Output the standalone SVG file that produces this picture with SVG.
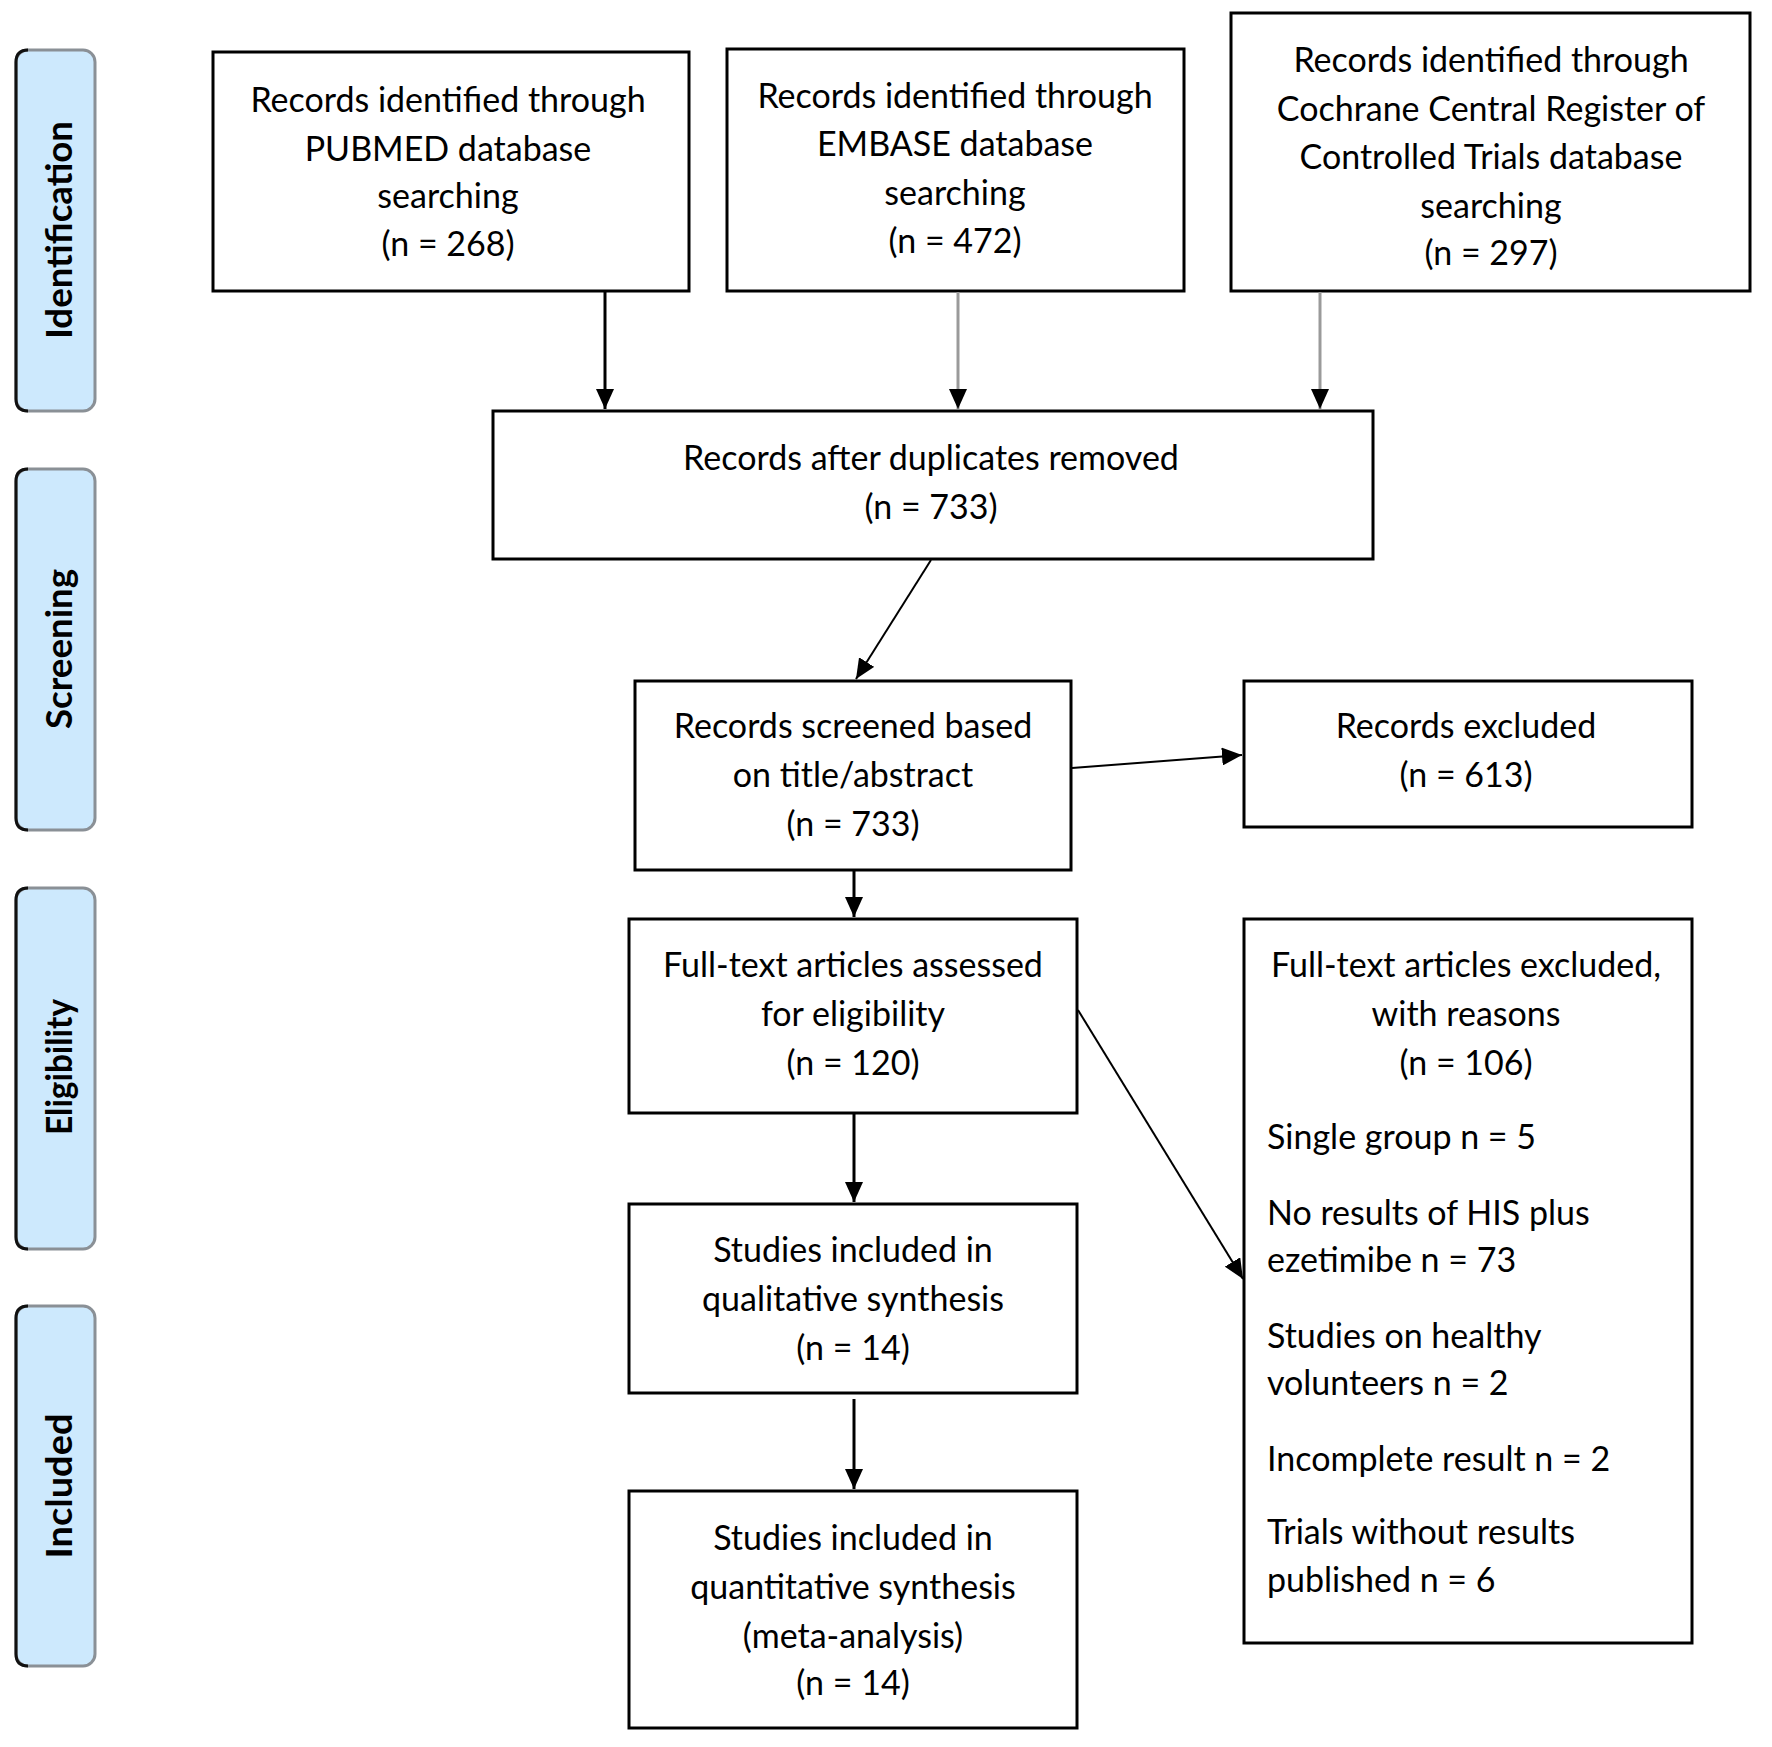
<svg xmlns="http://www.w3.org/2000/svg" width="1772" height="1747" viewBox="0 0 1772 1747">
<style>
.bg{fill:#ffffff}
.box{fill:#ffffff;stroke:#000000;stroke-width:3}
.tab{fill:#cde9fd;stroke:#8a9096;stroke-width:3}
.edge{fill:none;stroke:#111111;stroke-width:3}
.t{font-family:Lato,"Liberation Sans",sans-serif;font-size:34px;fill:#000000;text-anchor:middle}
.l{text-anchor:start}
.tt{font-family:Lato,"Liberation Sans",sans-serif;font-size:36px;font-weight:bold;fill:#000000;text-anchor:middle}
.c{fill:none;stroke:#000000;stroke-width:3}
.g{stroke:#9a9a9a}
.d{stroke-width:2}
</style>
<defs>
<marker id="ah" markerUnits="userSpaceOnUse" markerWidth="20" markerHeight="18" viewBox="0 0 20 18" refX="20" refY="9" orient="auto">
<path d="M0,0 L20,9 L0,18 Z" fill="#000000"/>
</marker>
</defs>
<rect class="bg" x="0" y="0" width="1772" height="1747"/>

<g id="tab-identification">
<rect class="tab" x="16" y="50" width="79" height="361" rx="12"/>
<path class="edge" d="M28,50 Q16,50 16,62 L16,399 Q16,411 28,411"/>
<text class="tt" transform="translate(72,230) rotate(-90)" textLength="218" lengthAdjust="spacingAndGlyphs">Identification</text>
</g>
<g id="tab-screening">
<rect class="tab" x="16" y="469" width="79" height="361" rx="12"/>
<path class="edge" d="M28,469 Q16,469 16,481 L16,818 Q16,830 28,830"/>
<text class="tt" transform="translate(72,649) rotate(-90)" textLength="160" lengthAdjust="spacingAndGlyphs">Screening</text>
</g>
<g id="tab-eligibility">
<rect class="tab" x="16" y="888" width="79" height="361" rx="12"/>
<path class="edge" d="M28,888 Q16,888 16,900 L16,1237 Q16,1249 28,1249"/>
<text class="tt" transform="translate(72,1067) rotate(-90)" textLength="136" lengthAdjust="spacingAndGlyphs">Eligibility</text>
</g>
<g id="tab-included">
<rect class="tab" x="16" y="1306" width="79" height="360" rx="12"/>
<path class="edge" d="M28,1306 Q16,1306 16,1318 L16,1654 Q16,1666 28,1666"/>
<text class="tt" transform="translate(72,1486) rotate(-90)" textLength="145" lengthAdjust="spacingAndGlyphs">Included</text>
</g>

<g id="pubmed">
<rect class="box" x="213" y="52" width="476" height="239"/>
<text class="t" x="448" y="112">Records identified through</text>
<text class="t" x="448" y="161">PUBMED database</text>
<text class="t" x="448" y="208">searching</text>
<text class="t" x="448" y="256">(n = 268)</text>
</g>
<g id="embase">
<rect class="box" x="727" y="49" width="457" height="242"/>
<text class="t" x="955" y="108">Records identified through</text>
<text class="t" x="955" y="156">EMBASE database</text>
<text class="t" x="955" y="205">searching</text>
<text class="t" x="955" y="253">(n = 472)</text>
</g>
<g id="cochrane">
<rect class="box" x="1231" y="13" width="519" height="278"/>
<text class="t" x="1491" y="72">Records identified through</text>
<text class="t" x="1491" y="121">Cochrane Central Register of</text>
<text class="t" x="1491" y="169">Controlled Trials database</text>
<text class="t" x="1491" y="218">searching</text>
<text class="t" x="1491" y="265">(n = 297)</text>
</g>
<g id="duplicates">
<rect class="box" x="493" y="411" width="880" height="148"/>
<text class="t" x="931" y="470">Records after duplicates removed</text>
<text class="t" x="931" y="519">(n = 733)</text>
</g>
<g id="screened">
<rect class="box" x="635" y="681" width="436" height="189"/>
<text class="t" x="853" y="738">Records screened based</text>
<text class="t" x="853" y="787">on title/abstract</text>
<text class="t" x="853" y="836">(n = 733)</text>
</g>
<g id="excluded">
<rect class="box" x="1244" y="681" width="448" height="146"/>
<text class="t" x="1466" y="738">Records excluded</text>
<text class="t" x="1466" y="787">(n = 613)</text>
</g>
<g id="fulltext">
<rect class="box" x="629" y="919" width="448" height="194"/>
<text class="t" x="853" y="977">Full-text articles assessed</text>
<text class="t" x="853" y="1026">for eligibility</text>
<text class="t" x="853" y="1075">(n = 120)</text>
</g>
<g id="fulltext-excluded">
<rect class="box" x="1244" y="919" width="448" height="724"/>
<text class="t" x="1466" y="977">Full-text articles excluded,</text>
<text class="t" x="1466" y="1026">with reasons</text>
<text class="t" x="1466" y="1075">(n = 106)</text>
<text class="t l" x="1267" y="1149">Single group n = 5</text>
<text class="t l" x="1267" y="1225">No results of HIS plus</text>
<text class="t l" x="1267" y="1272">ezetimibe n = 73</text>
<text class="t l" x="1267" y="1348">Studies on healthy</text>
<text class="t l" x="1267" y="1395">volunteers n = 2</text>
<text class="t l" x="1267" y="1471">Incomplete result n = 2</text>
<text class="t l" x="1267" y="1544">Trials without results</text>
<text class="t l" x="1267" y="1592">published n = 6</text>
</g>
<g id="qualitative">
<rect class="box" x="629" y="1204" width="448" height="189"/>
<text class="t" x="853" y="1262">Studies included in</text>
<text class="t" x="853" y="1311">qualitative synthesis</text>
<text class="t" x="853" y="1360">(n = 14)</text>
</g>
<g id="quantitative">
<rect class="box" x="629" y="1491" width="448" height="237"/>
<text class="t" x="853" y="1550">Studies included in</text>
<text class="t" x="853" y="1599">quantitative synthesis</text>
<text class="t" x="853" y="1648">(meta-analysis)</text>
<text class="t" x="853" y="1695">(n = 14)</text>
</g>

<g id="connectors">
<line class="c" x1="605" y1="292" x2="605" y2="409" marker-end="url(#ah)"/>
<line class="c g" x1="958" y1="292" x2="958" y2="409" marker-end="url(#ah)"/>
<line class="c g" x1="1320" y1="292" x2="1320" y2="409" marker-end="url(#ah)"/>
<line class="c d" x1="931" y1="560" x2="856" y2="679" marker-end="url(#ah)"/>
<line class="c d" x1="1072" y1="768" x2="1242" y2="755" marker-end="url(#ah)"/>
<line class="c" x1="854" y1="871" x2="854" y2="917" marker-end="url(#ah)"/>
<line class="c d" x1="1078" y1="1010" x2="1243" y2="1279" marker-end="url(#ah)"/>
<line class="c" x1="854" y1="1114" x2="854" y2="1202" marker-end="url(#ah)"/>
<line class="c" x1="854" y1="1399" x2="854" y2="1489" marker-end="url(#ah)"/>
</g>
</svg>
